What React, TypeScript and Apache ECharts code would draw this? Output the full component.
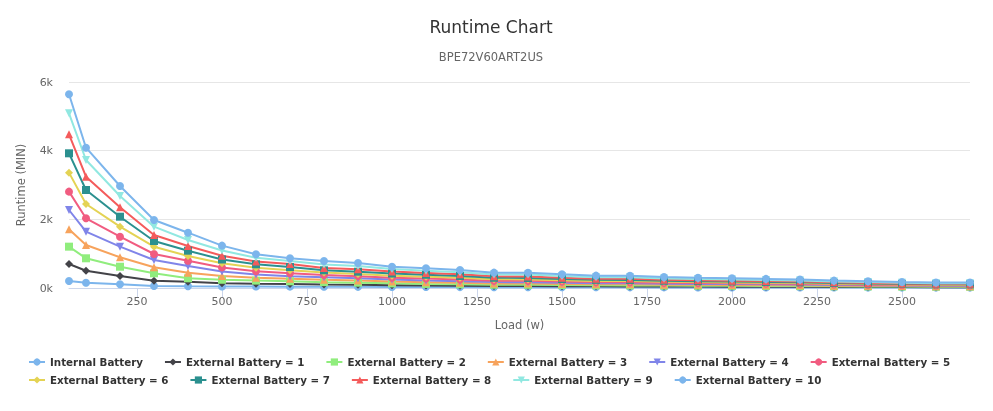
import React, { useEffect, useRef } from "react";
import * as echarts from "echarts";

const loads = [50, 100, 200, 300, 400, 500, 600, 700, 800, 900, 1000, 1100, 1200, 1300, 1400, 1500, 1600, 1700, 1800, 1900, 2000, 2100, 2200, 2300, 2400, 2500, 2600, 2700];

const internalBattery = [205, 155, 108, 60, 52, 45, 42, 40, 36, 33, 30, 28, 26, 24, 22, 21, 20, 19, 18, 17, 16, 15, 14, 13, 12, 12, 11, 10];
const ext1 = [699, 504, 350, 213, 184, 140, 125, 115, 100, 92, 82, 72, 66, 58, 56, 52, 48, 47, 43, 41, 39, 37, 35, 32, 29, 27, 25, 25];
const ext2 = [1204, 865, 620, 428, 282, 240, 215, 195, 170, 155, 135, 118, 108, 95, 92, 85, 78, 76, 70, 66, 63, 60, 56, 50, 46, 42, 39, 38];
const ext3 = [1709, 1253, 894, 602, 447, 350, 300, 270, 240, 218, 190, 168, 152, 133, 130, 118, 108, 106, 97, 92, 88, 83, 77, 69, 63, 57, 52, 52];
const ext4 = [2272, 1640, 1204, 816, 641, 480, 395, 345, 310, 282, 245, 220, 200, 172, 168, 152, 140, 137, 125, 118, 113, 106, 99, 88, 80, 72, 66, 65];
const ext5 = [2806, 2030, 1494, 990, 795, 600, 490, 428, 378, 345, 300, 275, 250, 212, 208, 188, 172, 169, 153, 145, 138, 130, 121, 107, 97, 87, 80, 79];
const ext6 = [3360, 2447, 1786, 1204, 932, 720, 590, 520, 450, 410, 360, 330, 300, 255, 250, 225, 205, 202, 182, 172, 163, 154, 143, 126, 114, 102, 94, 93];
const ext7 = [3923, 2855, 2077, 1369, 1087, 830, 690, 610, 515, 475, 420, 385, 350, 298, 292, 262, 238, 235, 212, 200, 189, 178, 165, 145, 131, 118, 108, 107];
const ext8 = [4477, 3243, 2350, 1544, 1223, 940, 775, 700, 580, 545, 480, 440, 400, 340, 335, 300, 270, 268, 240, 226, 214, 202, 187, 165, 149, 134, 122, 121];
const ext9 = [5088, 3729, 2680, 1786, 1398, 1090, 880, 785, 685, 640, 555, 505, 462, 395, 390, 350, 315, 312, 280, 263, 248, 234, 216, 190, 172, 155, 141, 140];
const ext10 = [5642, 4087, 2971, 1981, 1611, 1235, 985, 865, 786, 728, 621, 573, 524, 447, 445, 400, 360, 358, 320, 300, 282, 265, 245, 215, 195, 175, 160, 160];

const seriesNames = [
  "Internal Battery",
  "External Battery = 1",
  "External Battery = 2",
  "External Battery = 3",
  "External Battery = 4",
  "External Battery = 5",
  "External Battery = 6",
  "External Battery = 7",
  "External Battery = 8",
  "External Battery = 9",
  "External Battery = 10",
];
const seriesValues = [internalBattery, ext1, ext2, ext3, ext4, ext5, ext6, ext7, ext8, ext9, ext10];
const colors = ["#7cb5ec", "#434348", "#90ed7d", "#f7a35c", "#8085e9", "#f15c80", "#e4d354", "#2b908f", "#f45b5b", "#91e8e1", "#7cb5ec"];
const triDown = "path://M0,0L10,0L5,8.66Z";
const symbols = ["circle", "diamond", "rect", "triangle", triDown, "circle", "diamond", "rect", "triangle", triDown, "circle"];
const xTickValues = [250, 500, 750, 1000, 1250, 1500, 1750, 2000, 2250, 2500];

const FONT = "DejaVu Sans";

export default function App() {
  const ref = useRef<HTMLDivElement>(null);
  useEffect(() => {
    if (!ref.current) return;
    const chart = echarts.init(ref.current, undefined, { renderer: "svg" });
    const legendCommon = {
      orient: "horizontal",
      padding: 0,
      itemWidth: 16,
      itemHeight: 9,
      itemGap: 21,
      textStyle: { fontFamily: FONT, fontSize: 10.3, fontWeight: "bold", color: "#333333" },
    };
    chart.setOption({
      animation: false,
      textStyle: { fontFamily: FONT },
      color: colors,
      graphic: [
        {
          type: "text",
          x: 491,
          y: 27,
          style: { text: "Runtime Chart", fontFamily: FONT, fontSize: 17, fill: "#333333", textAlign: "center", textVerticalAlign: "middle" },
        },
        {
          type: "text",
          x: 491,
          y: 57,
          style: { text: "BPE72V60ART2US", fontFamily: FONT, fontSize: 11.5, fill: "#666666", textAlign: "center", textVerticalAlign: "middle" },
        },
      ],
      legend: [
        { ...legendCommon, left: 28, top: 357, data: seriesNames.slice(0, 6) },
        { ...legendCommon, left: 28, top: 375, data: seriesNames.slice(6) },
      ],
      grid: { left: 69, right: 23, top: 82, bottom: 123, containLabel: false },
      xAxis: {
        type: "value",
        min: 50,
        max: 2700,
        name: "Load (w)",
        nameLocation: "middle",
        nameGap: 31,
        nameTextStyle: { fontFamily: FONT, fontSize: 11.5, color: "#666666" },
        axisLine: { show: true, lineStyle: { color: "#ccd6eb", width: 1 } },
        axisTick: { show: true, length: 10, customValues: xTickValues, lineStyle: { color: "#ccd6eb" } },
        axisLabel: {
          customValues: xTickValues,
          fontFamily: FONT,
          fontSize: 11,
          color: "#666666",
          margin: 8,
          formatter: (v: number) => String(v),
        },
        splitLine: { show: false },
      },
      yAxis: {
        type: "value",
        min: 0,
        max: 6000,
        interval: 2000,
        name: "Runtime (MIN)",
        nameLocation: "middle",
        nameGap: 42,
        nameRotate: 90,
        nameTextStyle: { fontFamily: FONT, fontSize: 11.5, color: "#666666" },
        axisLine: { show: false },
        axisTick: { show: false },
        axisLabel: {
          fontFamily: FONT,
          fontSize: 11,
          color: "#666666",
          margin: 16,
          formatter: (v: number) => v / 1000 + "k",
        },
        splitLine: { show: true, lineStyle: { color: "#e6e6e6", width: 1 } },
      },
      series: seriesNames.map((name, i) => ({
        name,
        type: "line",
        data: loads.map((x, j) => [x, seriesValues[i][j]]),
        symbol: symbols[i],
        symbolSize: 8,
        showSymbol: true,
        lineStyle: { width: 2, color: colors[i] },
        itemStyle: { color: colors[i] },
        emphasis: { disabled: true },
      })),
    });
    return () => chart.dispose();
  }, []);
  return <div ref={ref} style={{ position: "fixed", left: 0, top: 0, width: 993, height: 411 }} />;
}
